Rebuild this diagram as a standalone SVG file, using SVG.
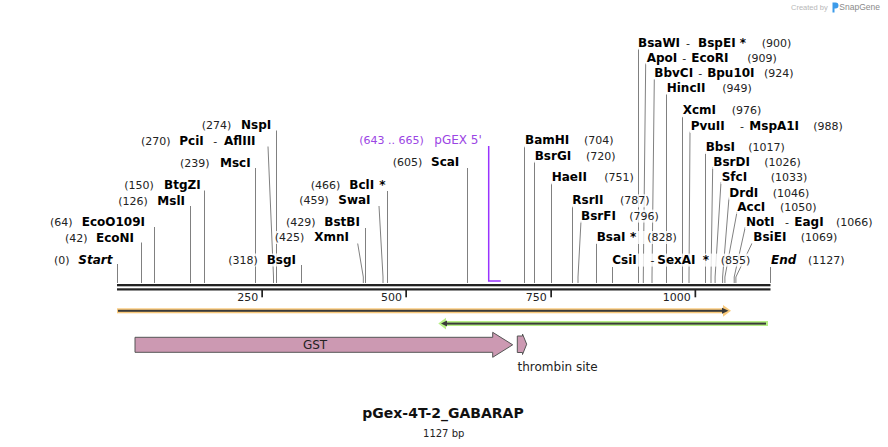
<svg xmlns="http://www.w3.org/2000/svg" width="888" height="447" viewBox="0 0 888 447">
<style>
text{font-family:"DejaVu Sans",Verdana,sans-serif}
.num{font-size:11px;fill:#222}
.nm{font-size:12px;font-weight:bold;fill:#000}
.it{font-style:italic}
.bg{fill:#fff;fill-opacity:.8}
.ln{stroke:#808080;stroke-width:1;fill:none}
.pr{fill:#9b45e4}
.tk{fill:#222}
.dk{fill:#3a3a3a}
</style>
<rect width="888" height="447" fill="#fff"/>

<g id="watermark">
<text x="791" y="10" style="font-family:'Liberation Sans',Arial,sans-serif;font-size:7.5px;fill:#b8b8b8">Created by</text>
<path d="M832.5,2.5h3a3,3 0 0 1 0,6h-1v4h-2z" fill="#3d9be9"/>
<text x="839.3" y="10" style="font-family:'Liberation Sans',Arial,sans-serif;font-size:8.5px;fill:#8a8a8a">SnapGene</text>
</g>

<g id="connectors">
<path class="ln" d="M117.5,264V283"/>
<path class="ln" d="M141.5,242.5V283"/>
<path class="ln" d="M154.5,227V283"/>
<path class="ln" d="M190.5,206V283"/>
<path class="ln" d="M204.5,190.5V283"/>
<path class="ln" d="M255.5,168V283"/>
<path class="ln" d="M268,146.5L273.5,277V283"/>
<path class="ln" d="M276.5,130.5V283"/>
<path class="ln" d="M301.5,265V283"/>
<path class="ln" d="M357.7,243.5L363.3,277V283"/>
<path class="ln" d="M365.5,228V283"/>
<path class="ln" d="M379,206L383,277V283"/>
<path class="ln" d="M387.5,191V283"/>
<path class="ln" d="M467.5,168V283"/>
<path class="ln" d="M524.5,146V283"/>
<path class="ln" d="M534.5,161.5V283"/>
<path class="ln" d="M551.5,183V283"/>
<path class="ln" d="M572.5,206V283"/>
<path class="ln" d="M581,221L578,277V283"/>
<path class="ln" d="M596.5,243V283"/>
<path class="ln" d="M612.5,267V283"/>
<path class="ln" d="M638.5,48.5V283"/>
<path class="ln" d="M645.7,63.5L643.3,277V283"/>
<path class="ln" d="M654.3,79L652,277V283"/>
<path class="ln" d="M666.5,94V283"/>
<path class="ln" d="M682.5,116.7V283"/>
<path class="ln" d="M690,131.7L689,277V283"/>
<path class="ln" d="M705.5,152.7V283"/>
<path class="ln" d="M712.7,167L711,277V283"/>
<path class="ln" d="M721,182L715.1,277V283"/>
<path class="ln" d="M729,197.5L722.6,277V283"/>
<path class="ln" d="M737,212L724.9,277V283"/>
<path class="ln" d="M745.3,227L734.2,277V283"/>
<path class="ln" d="M752,243.3L735.9,277V283"/>
<path class="ln" d="M770.5,267V283"/>
<path d="M488.7,146V281H500.7" fill="none" stroke="#9933ff" stroke-width="1.5"/>
</g>

<g id="backbone">
<rect x="117" y="284" width="653.5" height="2.3" class="tk"/>
<rect x="117" y="288.3" width="653.5" height="2.2" class="tk"/>
<rect x="261.3" y="290" width="1.7" height="7.3" class="tk"/>
<rect x="405.3" y="290" width="1.7" height="7.3" class="tk"/>
<rect x="550.3" y="290" width="1.7" height="7.3" class="tk"/>
<rect x="694.5" y="290" width="1.7" height="7.3" class="tk"/>
<text class="num" x="258.3" y="300.7" text-anchor="end">250</text>
<text class="num" x="402" y="300.7" text-anchor="end">500</text>
<text class="num" x="546.7" y="300.7" text-anchor="end">750</text>
<text class="num" x="690.7" y="300.7" text-anchor="end">1000</text>
</g>

<!-- left labels -->
<g id="start"><rect class="bg" x="53" y="253.5" width="59" height="13"/><text y="263.5"><tspan class="num" x="54">(0)</tspan><tspan class="nm it" x="78.3">Start</tspan></text></g>
<g id="EcoNI"><rect class="bg" x="64" y="231.5" width="73" height="13"/><text y="241.5"><tspan class="num" x="65">(42)</tspan><tspan class="nm" x="96">EcoNI</tspan></text></g>
<g id="EcoO109I"><rect class="bg" x="49" y="216" width="98" height="13"/><text y="226"><tspan class="num" x="50">(64)</tspan><tspan class="nm" x="81.7">EcoO109I</tspan></text></g>
<g id="MslI"><rect class="bg" x="117.3" y="195" width="69" height="13"/><text y="205"><tspan class="num" x="118.3">(126)</tspan><tspan class="nm" x="157.3">MslI</tspan></text></g>
<g id="BtgZI"><rect class="bg" x="123.3" y="179.3" width="78" height="13"/><text y="189.3"><tspan class="num" x="124.3">(150)</tspan><tspan class="nm" x="164">BtgZI</tspan></text></g>
<g id="MscI"><rect class="bg" x="179" y="156.6" width="72" height="13"/><text y="166.6"><tspan class="num" x="180">(239)</tspan><tspan class="nm" x="220">MscI</tspan></text></g>
<g id="PciI-AflIII"><rect class="bg" x="140" y="135.3" width="122" height="13"/><text y="145.3"><tspan class="num" x="141">(270)</tspan><tspan class="nm" x="179.3">PciI</tspan><tspan class="num" x="213.3">-</tspan><tspan class="nm" x="224">AflIII</tspan></text></g>
<g id="NspI"><rect class="bg" x="200.7" y="119.3" width="72" height="13"/><text y="129.3"><tspan class="num" x="201.7">(274)</tspan><tspan class="nm" x="241">NspI</tspan></text></g>
<g id="BsgI"><rect class="bg" x="227.3" y="253.5" width="71" height="13"/><text y="263.5"><tspan class="num" x="228.3">(318)</tspan><tspan class="nm" x="266.7">BsgI</tspan></text></g>
<g id="XmnI"><rect class="bg" x="273.7" y="231" width="77" height="13"/><text y="241"><tspan class="num" x="274.7">(425)</tspan><tspan class="nm" x="314.3">XmnI</tspan></text></g>
<g id="BstBI"><rect class="bg" x="285" y="216" width="77" height="13"/><text y="226"><tspan class="num" x="286">(429)</tspan><tspan class="nm" x="324.3">BstBI</tspan></text></g>
<g id="SwaI"><rect class="bg" x="298.3" y="194.3" width="75" height="13"/><text y="204.3"><tspan class="num" x="299.3">(459)</tspan><tspan class="nm" x="338.3">SwaI</tspan></text></g>
<g id="BclI"><rect class="bg" x="309.7" y="178.6" width="77" height="13"/><text y="188.6"><tspan class="num" x="310.7">(466)</tspan><tspan class="nm" x="349.3">BclI</tspan><tspan class="nm" x="379.3">*</tspan></text></g>
<g id="ScaI"><rect class="bg" x="391.7" y="156" width="70" height="13"/><text y="166"><tspan class="num" x="392.7">(605)</tspan><tspan class="nm" x="431">ScaI</tspan></text></g>
<g id="pGEX5"><rect class="bg" x="358.3" y="134.3" width="125" height="13"/><text y="144.3" class="pr"><tspan x="359.3" style="font-size:11px">(643 .. 665)</tspan><tspan x="434.3" style="font-size:12px">pGEX 5'</tspan></text></g>

<!-- right labels -->
<g id="BamHI"><rect class="bg" x="524" y="134.3" width="91" height="13"/><text y="144.3"><tspan class="nm" x="525">BamHI</tspan><tspan class="num" x="584">(704)</tspan></text></g>
<g id="BsrGI"><rect class="bg" x="533.7" y="149.6" width="83" height="13"/><text y="159.6"><tspan class="nm" x="534.7">BsrGI</tspan><tspan class="num" x="586">(720)</tspan></text></g>
<g id="HaeII"><rect class="bg" x="550.7" y="171.3" width="84" height="13"/><text y="181.3"><tspan class="nm" x="551.7">HaeII</tspan><tspan class="num" x="604.3">(751)</tspan></text></g>
<g id="RsrII"><rect class="bg" x="571.3" y="194.3" width="79" height="13"/><text y="204.3"><tspan class="nm" x="572.3">RsrII</tspan><tspan class="num" x="620">(787)</tspan></text></g>
<g id="BsrFI"><rect class="bg" x="580" y="209.6" width="80" height="13"/><text y="219.6"><tspan class="nm" x="581">BsrFI</tspan><tspan class="num" x="629.3">(796)</tspan></text></g>
<g id="BsaI"><rect class="bg" x="595.7" y="231" width="82" height="13"/><text y="241"><tspan class="nm" x="596.7">BsaI</tspan><tspan class="nm" x="630">*</tspan><tspan class="num" x="647.3">(828)</tspan></text></g>
<g id="CsiI-SexAI"><rect class="bg" x="611.3" y="253.6" width="140" height="13"/><text y="263.6"><tspan class="nm" x="612.3">CsiI</tspan><tspan class="num" x="650.5">-</tspan><tspan class="nm" x="657.3">SexAI</tspan><tspan class="nm" x="702.7">*</tspan><tspan class="num" x="720.7">(855)</tspan></text></g>
<g id="end"><rect class="bg" x="770" y="253.6" width="76" height="13"/><text y="263.6"><tspan class="nm it" x="771">End</tspan><tspan class="num" x="808">(1127)</tspan></text></g>
<g id="BsaWI-BspEI"><rect class="bg" x="637" y="36.6" width="156" height="13"/><text y="46.6"><tspan class="nm" x="638">BsaWI</tspan><tspan class="num" dx="6">-</tspan><tspan class="nm" dx="8">BspEI</tspan><tspan class="nm" dx="4">*</tspan><tspan class="num" x="761.7">(900)</tspan></text></g>
<g id="ApoI-EcoRI"><rect class="bg" x="645.7" y="51.6" width="132" height="13"/><text y="61.6"><tspan class="nm" x="646.7">ApoI</tspan><tspan class="num" dx="5">-</tspan><tspan class="nm" dx="5">EcoRI</tspan><tspan class="num" x="747.3">(909)</tspan></text></g>
<g id="BbvCI-Bpu10I"><rect class="bg" x="653.3" y="66.6" width="142" height="13"/><text y="76.6"><tspan class="nm" x="654.3">BbvCI</tspan><tspan class="num" dx="5">-</tspan><tspan class="nm" dx="5">Bpu10I</tspan><tspan class="num" x="764">(924)</tspan></text></g>
<g id="HincII"><rect class="bg" x="665.7" y="81.6" width="87" height="13"/><text y="91.6"><tspan class="nm" x="666.7">HincII</tspan><tspan class="num" x="722.3">(949)</tspan></text></g>
<g id="XcmI"><rect class="bg" x="681.7" y="104.3" width="81" height="13"/><text y="114.3"><tspan class="nm" x="682.7">XcmI</tspan><tspan class="num" x="731.7">(976)</tspan></text></g>
<g id="PvuII-MspA1I"><rect class="bg" x="689.7" y="120" width="154" height="13"/><text y="130"><tspan class="nm" x="690.7">PvuII</tspan><tspan class="num" x="740">-</tspan><tspan class="nm" x="749.3">MspA1I</tspan><tspan class="num" x="813.3">(988)</tspan></text></g>
<g id="BbsI"><rect class="bg" x="704.7" y="141" width="81" height="13"/><text y="151"><tspan class="nm" x="705.7">BbsI</tspan><tspan class="num" x="748.3">(1017)</tspan></text></g>
<g id="BsrDI"><rect class="bg" x="712.3" y="156" width="90" height="13"/><text y="166"><tspan class="nm" x="713.3">BsrDI</tspan><tspan class="num" x="764.3">(1026)</tspan></text></g>
<g id="SfcI"><rect class="bg" x="720.7" y="171" width="88" height="13"/><text y="181"><tspan class="nm" x="721.7">SfcI</tspan><tspan class="num" x="770.7">(1033)</tspan></text></g>
<g id="DrdI"><rect class="bg" x="728.3" y="186.6" width="82" height="13"/><text y="196.6"><tspan class="nm" x="729.3">DrdI</tspan><tspan class="num" x="772.7">(1046)</tspan></text></g>
<g id="AccI"><rect class="bg" x="736.3" y="201" width="82" height="13"/><text y="211"><tspan class="nm" x="737.3">AccI</tspan><tspan class="num" x="780">(1050)</tspan></text></g>
<g id="NotI-EagI"><rect class="bg" x="745" y="216" width="129" height="13"/><text y="226"><tspan class="nm" x="746">NotI</tspan><tspan class="num" x="785">-</tspan><tspan class="nm" x="794.3">EagI</tspan><tspan class="num" x="836">(1066)</tspan></text></g>
<g id="BsiEI"><rect class="bg" x="752.3" y="231" width="86" height="13"/><text y="241"><tspan class="nm" x="753.3">BsiEI</tspan><tspan class="num" x="800.7">(1069)</tspan></text></g>

<!-- features -->
<g id="feature-orange">
<rect x="117" y="308.3" width="606.5" height="5" fill="#f9c97b"/>
<polygon points="723,305 731,310.8 723,316.7" fill="#f9c97b"/>
<rect x="118" y="309.8" width="605" height="2" class="dk"/>
<polygon points="722,307.8 728.5,310.8 722,313.8" class="dk"/>
</g>
<g id="feature-green">
<rect x="443" y="321" width="325" height="5" fill="#b6ef86"/>
<polygon points="446,317.8 438.3,323.6 446,329.4" fill="#b6ef86"/>
<rect x="444" y="322.6" width="322" height="2" class="dk"/>
<polygon points="447,320.6 441,323.6 447,326.6" class="dk"/>
</g>
<g id="GST">
<polygon points="135,337.3 492.7,337.3 492.7,332.3 512.7,344.8 492.7,357.3 492.7,352.3 135,352.3" fill="#cc99b2" stroke="#555" stroke-width="1"/>
<text x="315" y="348.5" text-anchor="middle" style="font-size:12px;fill:#222">GST</text>
</g>
<g id="thrombin">
<polygon points="517.3,336 522.5,336 522.5,334 526.7,344.2 522.5,354.5 522.5,352.5 517.3,352.5" fill="#cc99b2" stroke="#555" stroke-width="1"/>
<text x="517.5" y="371" style="font-size:12px;fill:#222">thrombin site</text>
</g>

<g id="title">
<text x="443" y="418" text-anchor="middle" style="font-size:14px;font-weight:bold;fill:#111">pGex-4T-2_GABARAP</text>
<text x="443.7" y="437" text-anchor="middle" style="font-size:10px;fill:#222">1127 bp</text>
</g>
</svg>
